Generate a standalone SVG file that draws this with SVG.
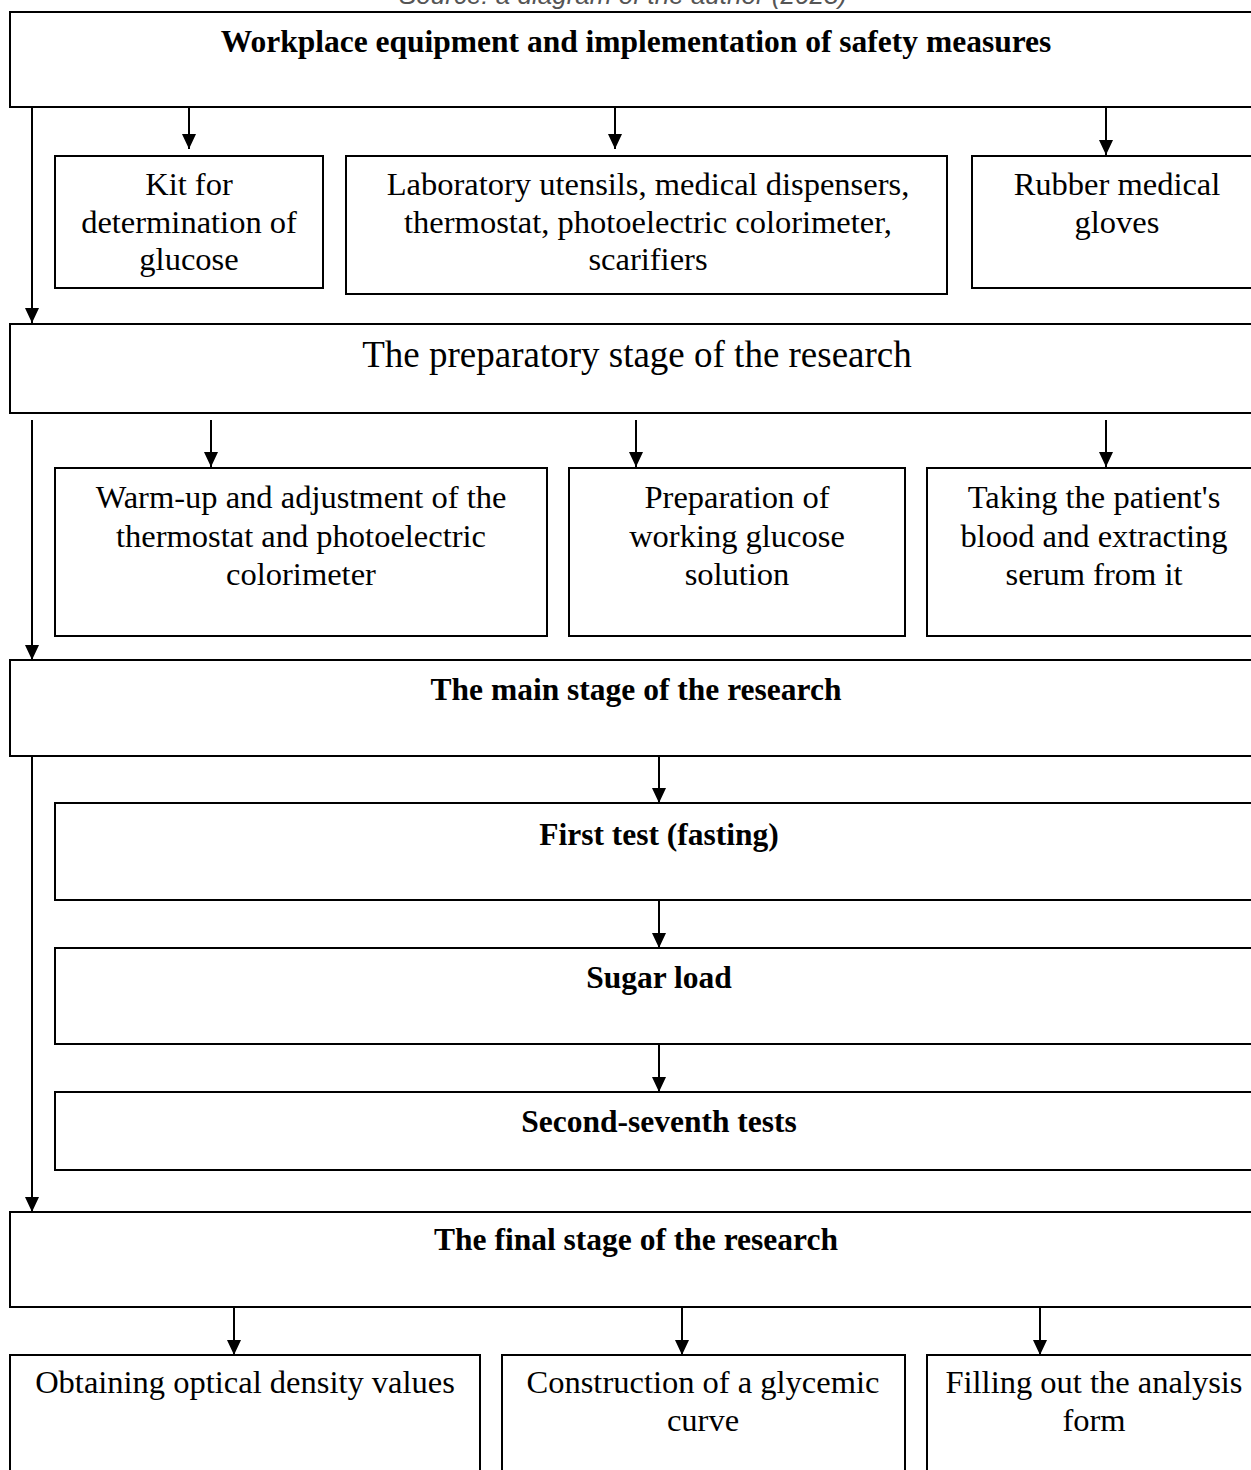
<svg xmlns="http://www.w3.org/2000/svg" width="1251" height="1470" viewBox="0 0 1251 1470">
<style>
.box{fill:#fff;stroke:#000;stroke-width:2}
.t{font-family:"Liberation Serif","Times New Roman",serif;font-size:32.5px;fill:#000;text-anchor:middle}
.b{font-family:"Liberation Serif","Times New Roman",serif;font-size:31.5px;font-weight:bold;fill:#000;text-anchor:middle}
.big{font-family:"Liberation Serif","Times New Roman",serif;font-size:37px;fill:#000;text-anchor:middle}
.src{font-family:"Liberation Sans",Arial,sans-serif;font-size:26px;font-style:italic;fill:#555;text-anchor:middle}
.c{stroke:#000;stroke-width:2;fill:none;marker-end:url(#ah)}
</style>
<defs>
<marker id="ah" viewBox="0 0 15 14" refX="15" refY="7" markerWidth="15" markerHeight="14" markerUnits="userSpaceOnUse" orient="auto">
<path d="M0 0 L15 7 L0 14 Z" fill="#000"/>
</marker>
</defs>
<rect width="1251" height="1470" fill="#fff"/>
<text class="src" x="623" y="4">Source: a diagram of the author (2023)</text>

<g id="n-workplace"><rect class="box" x="10" y="12" width="1250" height="95"/><text class="b" x="636" y="52">Workplace equipment and implementation of safety measures</text></g>
<g id="n-kit"><rect class="box" x="55" y="156" width="268" height="132"/><text class="t"><tspan x="189" y="195">Kit for</tspan><tspan x="189" y="233">determination of</tspan><tspan x="189" y="270">glucose</tspan></text></g>
<g id="n-lab"><rect class="box" x="346" y="156" width="601" height="138"/><text class="t"><tspan x="648" y="195">Laboratory utensils, medical dispensers,</tspan><tspan x="648" y="233">thermostat, photoelectric colorimeter,</tspan><tspan x="648" y="270">scarifiers</tspan></text></g>
<g id="n-gloves"><rect class="box" x="972" y="156" width="290" height="132"/><text class="t"><tspan x="1117" y="195">Rubber medical</tspan><tspan x="1117" y="233">gloves</tspan></text></g>
<g id="n-prep"><rect class="box" x="10" y="324" width="1250" height="89"/><text class="big" x="637" y="367">The preparatory stage of the research</text></g>
<g id="n-warm"><rect class="box" x="55" y="468" width="492" height="168"/><text class="t"><tspan x="301" y="508">Warm-up and adjustment of the</tspan><tspan x="301" y="547">thermostat and photoelectric</tspan><tspan x="301" y="585">colorimeter</tspan></text></g>
<g id="n-solution"><rect class="box" x="569" y="468" width="336" height="168"/><text class="t"><tspan x="737" y="508">Preparation of</tspan><tspan x="737" y="547">working glucose</tspan><tspan x="737" y="585">solution</tspan></text></g>
<g id="n-blood"><rect class="box" x="927" y="468" width="335" height="168"/><text class="t"><tspan x="1094" y="508">Taking the patient's</tspan><tspan x="1094" y="547">blood and extracting</tspan><tspan x="1094" y="585">serum from it</tspan></text></g>
<g id="n-main"><rect class="box" x="10" y="660" width="1250" height="96"/><text class="b" x="636" y="700">The main stage of the research</text></g>
<g id="n-first"><rect class="box" x="55" y="803" width="1205" height="97"/><text class="b" x="659" y="845">First test (fasting)</text></g>
<g id="n-sugar"><rect class="box" x="55" y="948" width="1205" height="96"/><text class="b" x="659" y="988">Sugar load</text></g>
<g id="n-second"><rect class="box" x="55" y="1092" width="1205" height="78"/><text class="b" x="659" y="1132">Second-seventh tests</text></g>
<g id="n-final"><rect class="box" x="10" y="1212" width="1250" height="95"/><text class="b" x="636" y="1250">The final stage of the research</text></g>
<g id="n-optical"><rect class="box" x="10" y="1355" width="470" height="130"/><text class="t" x="245" y="1393">Obtaining optical density values</text></g>
<g id="n-curve"><rect class="box" x="502" y="1355" width="403" height="130"/><text class="t"><tspan x="703" y="1393">Construction of a glycemic</tspan><tspan x="703" y="1431">curve</tspan></text></g>
<g id="n-form"><rect class="box" x="927" y="1355" width="335" height="130"/><text class="t"><tspan x="1094" y="1393">Filling out the analysis</tspan><tspan x="1094" y="1431">form</tspan></text></g>

<g id="connectors">
<line class="c" x1="32" y1="107" x2="32" y2="323"/>
<line class="c" x1="32" y1="420" x2="32" y2="660"/>
<line class="c" x1="32" y1="756" x2="32" y2="1212"/>
<line class="c" x1="189" y1="107" x2="189" y2="149"/>
<line class="c" x1="615" y1="107" x2="615" y2="149"/>
<line class="c" x1="1106" y1="107" x2="1106" y2="155"/>
<line class="c" x1="211" y1="420" x2="211" y2="467"/>
<line class="c" x1="636" y1="420" x2="636" y2="467"/>
<line class="c" x1="1106" y1="420" x2="1106" y2="467"/>
<line class="c" x1="659" y1="756" x2="659" y2="803"/>
<line class="c" x1="659" y1="900" x2="659" y2="948"/>
<line class="c" x1="659" y1="1044" x2="659" y2="1092"/>
<line class="c" x1="234" y1="1307" x2="234" y2="1355"/>
<line class="c" x1="682" y1="1307" x2="682" y2="1355"/>
<line class="c" x1="1040" y1="1307" x2="1040" y2="1355"/>
</g>
</svg>
